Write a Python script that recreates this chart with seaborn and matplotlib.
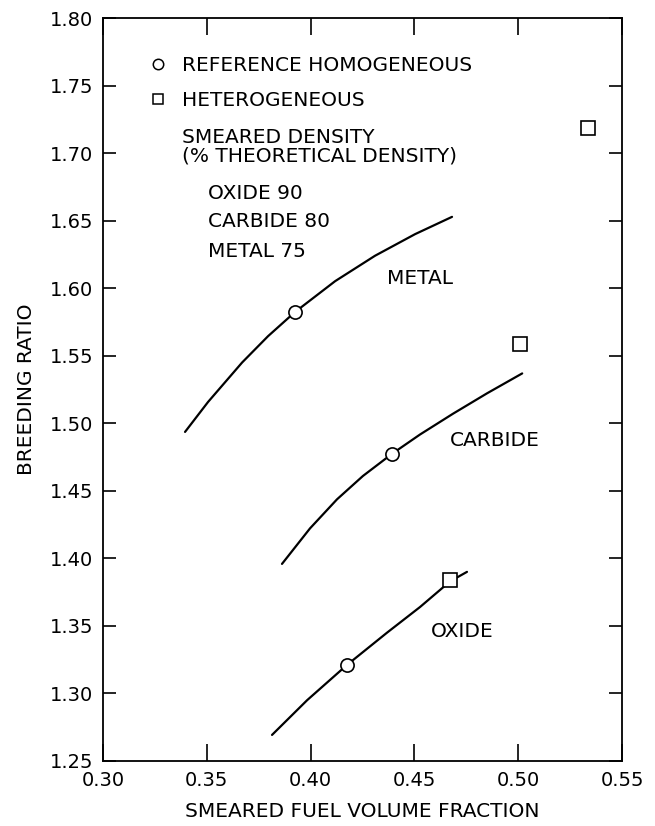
import matplotlib
matplotlib.use("Agg")
import matplotlib.pyplot as plt
from matplotlib.lines import Line2D
import seaborn as sns
import pandas as pd

# ---- data ----
metal_x = [0.3395, 0.3506, 0.3670, 0.3795, 0.3925, 0.4118, 0.4310, 0.4503, 0.4681]
metal_y = [1.4936, 1.5158, 1.5450, 1.5645, 1.5824, 1.6052, 1.6240, 1.6400, 1.6528]
carbide_x = [0.3862, 0.3997, 0.4127, 0.4252, 0.4392, 0.4527, 0.4686, 0.4850, 0.5019]
carbide_y = [1.3959, 1.4222, 1.4437, 1.4610, 1.4774, 1.4917, 1.5071, 1.5222, 1.5369]
oxide_x = [0.3814, 0.3983, 0.4175, 0.4368, 0.4527, 0.4672, 0.4753]
oxide_y = [1.2693, 1.2950, 1.3211, 1.3450, 1.3640, 1.3830, 1.3900]

homog_x = [0.3925, 0.4392, 0.4175]
homog_y = [1.5824, 1.4774, 1.3211]
heterog_x = [0.5336, 0.5009, 0.4672]
heterog_y = [1.7186, 1.5590, 1.3840]

fuels = ["METAL", "CARBIDE", "OXIDE"]
label_x = [0.4527, 0.4888, 0.4729]
label_y = [1.6070, 1.4869, 1.3455]

x_ticks = [0.30, 0.35, 0.40, 0.45, 0.50, 0.55]
y_ticks = [1.25, 1.30, 1.35, 1.40, 1.45, 1.50, 1.55, 1.60, 1.65, 1.70, 1.75, 1.80]

legend_labels = ["REFERENCE HOMOGENEOUS", "HETEROGENEOUS"]
density_title = ["SMEARED DENSITY", "(% THEORETICAL DENSITY)"]
density_lines = ["OXIDE 90", "CARBIDE 80", "METAL 75"]

# ---- build long table ----
rows = []
for name, xs, ys in [("METAL", metal_x, metal_y), ("CARBIDE", carbide_x, carbide_y),
                     ("OXIDE", oxide_x, oxide_y)]:
    for i, (a, b) in enumerate(zip(xs, ys)):
        rows.append({"fuel": name, "order": i, "x": a, "y": b})
curves = pd.DataFrame(rows)

sns.set_theme(style="white")
plt.rcParams['font.family'] = ['DejaVu Sans']
plt.rcParams['text.color'] = 'black'
plt.rcParams['axes.labelcolor'] = 'black'
plt.rcParams['xtick.color'] = 'black'
plt.rcParams['ytick.color'] = 'black'
FS = 14.5
TFS = 14

fig = plt.figure(figsize=(6.55, 8.26), dpi=100)
ax = fig.add_axes([0.1573, 0.0787, 0.7924, 0.8995])

sns.lineplot(data=curves, x="x", y="y", units="fuel", estimator=None, sort=False,
             color="black", linewidth=1.6, ax=ax, legend=False)

ax.plot(homog_x, homog_y, linestyle="none", marker="o", markersize=9.5,
        markerfacecolor="white", markeredgecolor="black", markeredgewidth=1.2, zorder=5)
ax.plot(heterog_x, heterog_y, linestyle="none", marker="s", markersize=9.5,
        markerfacecolor="white", markeredgecolor="black", markeredgewidth=1.2, zorder=5)

for name, lx, ly in zip(fuels, label_x, label_y):
    ax.text(lx, ly, name, ha="center", va="center", fontsize=FS, color="black")

# legend
handles = [Line2D([], [], linestyle="none", marker="o", markersize=7.5,
                  markerfacecolor="white", markeredgecolor="black", markeredgewidth=1.1),
           Line2D([], [], linestyle="none", marker="s", markersize=7.5,
                  markerfacecolor="white", markeredgecolor="black", markeredgewidth=1.1)]
leg = ax.legend(handles, legend_labels, loc="upper left",
                bbox_to_anchor=(0.0906, 0.9485), frameon=False, fontsize=FS,
                handlelength=0.8, handletextpad=0.8, labelspacing=0.8, borderpad=0,
                borderaxespad=0)
for t in leg.get_texts():
    t.set_color("black")

for t, yy in zip(density_title, [1.7113, 1.6980]):
    ax.text(0.338, yy, t, ha="left", va="center", fontsize=FS, color="black")
for t, yy in zip(density_lines, [1.6700, 1.6490, 1.6274]):
    ax.text(0.3506, yy, t, ha="left", va="center", fontsize=FS, color="black")

ax.set_xlim(0.30, 0.55)
ax.set_ylim(1.25, 1.80)
ax.set_xticks(x_ticks)
ax.set_yticks(y_ticks)
ax.set_xticklabels([f"{v:.2f}" for v in x_ticks], fontsize=TFS)
ax.set_yticklabels([f"{v:.2f}" for v in y_ticks], fontsize=TFS)
ax.tick_params(axis="x", direction="in", length=12, width=1.2, top=True, bottom=True, pad=7,
               colors="black", labelcolor="black")
ax.tick_params(axis="y", direction="in", length=9.5, width=1.2, left=True, right=True, pad=7,
               colors="black", labelcolor="black")
for s in ax.spines.values():
    s.set_color("black")
    s.set_linewidth(1.3)

ax.set_xlabel("SMEARED FUEL VOLUME FRACTION", fontsize=FS, labelpad=9, color="black")
ax.set_ylabel("BREEDING RATIO", fontsize=FS, labelpad=10, color="black")

fig.savefig("out.png", dpi=100, facecolor="white")
